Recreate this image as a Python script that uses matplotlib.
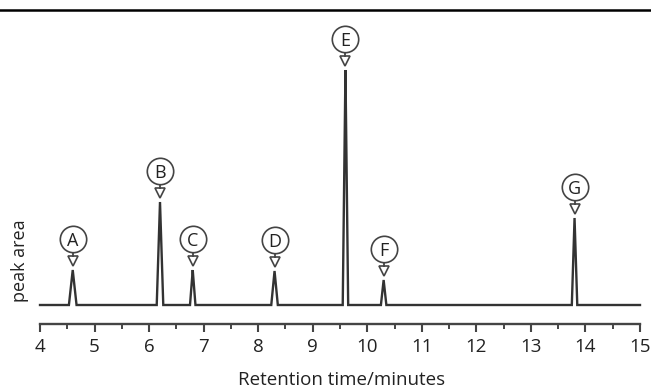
import numpy as np
import matplotlib
matplotlib.use("Agg")
import matplotlib.pyplot as plt
import matplotlib.transforms as mtransforms
from matplotlib.lines import Line2D

matplotlib.rcParams.update({"font.family": ["Open Sans", "DejaVu Sans"], "font.size": 12})

# peaks
labels = ["A", "B", "C", "D", "E", "F", "G"]
rt = [4.6, 6.2, 6.8, 8.3, 9.6, 10.3, 13.8]            # retention time, minutes
area = [35, 103, 35, 34, 235, 25, 87]                # peak height (arb. units)
half_w = [0.07, 0.06, 0.05, 0.06, 0.05, 0.05, 0.05]  # half base width, minutes
xticks = [4, 5, 6, 7, 8, 9, 10, 11, 12, 13, 14, 15]

INK = "#222222"
W, H = 651, 387
fig = plt.figure(figsize=(W / 100, H / 100), dpi=100)
ax = fig.add_axes([40 / W, (H - 305) / H, 600 / W, 275 / H])

# chromatogram trace: triangular peaks on a flat baseline
x = np.sort(np.concatenate([np.linspace(4, 15, 2201),
                            np.array(rt), np.array(rt) - half_w, np.array(rt) + half_w]))
y = np.zeros_like(x)
for p, h, w in zip(rt, area, half_w):
    y = np.maximum(y, h * np.clip(1 - np.abs(x - p) / w, 0, None))
ax.plot(x, y, color="#333", lw=1.7, clip_on=False, solid_joinstyle="miter")

# circled labels with a small stem and an open down-triangle
for lab, p, h in zip(labels, rt, area):
    tri = mtransforms.offset_copy(ax.transData, fig=fig, x=0, y=9, units="dots")
    stem = mtransforms.offset_copy(ax.transData, fig=fig, x=0, y=16, units="dots")
    circ = mtransforms.offset_copy(ax.transData, fig=fig, x=0, y=31, units="dots")
    ax.plot(p, h, marker="v", ms=7.5, mfc="white", mec="#444", mew=1.2,
            transform=tri, clip_on=False)
    ax.plot(p, h, marker="|", ms=4, mec="#444", mew=1.3, transform=stem, clip_on=False)
    ax.plot(p, h, marker="o", ms=19, mfc="white", mec="#444", mew=1.2,
            transform=circ, clip_on=False)
    ax.text(p, h, lab, transform=circ, ha="center", va="center_baseline",
            fontsize=13, color=INK, clip_on=False)

ax.set_xlim(4, 15)
ax.set_ylim(0, 275)
ax.set_xticks(xticks)
ax.set_xticks(np.arange(4.5, 15, 1.0), minor=True)
for s in ["left", "top", "right"]:
    ax.spines[s].set_visible(False)
ax.spines["bottom"].set_position(("outward", 13.5))
ax.spines["bottom"].set_color("#444")
ax.spines["bottom"].set_linewidth(1.7)
ax.set_yticks([])
ax.tick_params(axis="x", which="major", direction="out", length=6, width=1.5,
               color="#444", pad=4, labelsize=13.5, labelcolor=INK)
ax.tick_params(axis="x", which="minor", direction="out", length=3.5, width=1.4, color="#444")

fig.text(20 / W, (H - 261) / H, "peak area", rotation=90, ha="center", va="center",
         fontsize=13, color=INK)
fig.text(342 / W, (H - 371) / H, "Retention time/minutes", ha="center", va="top",
         fontsize=13.5, color=INK)

fig.add_artist(Line2D([0, 1], [1 - 10 / H] * 2, color="black", lw=1.8))

fig.savefig("out.png", dpi=100, facecolor="white")
